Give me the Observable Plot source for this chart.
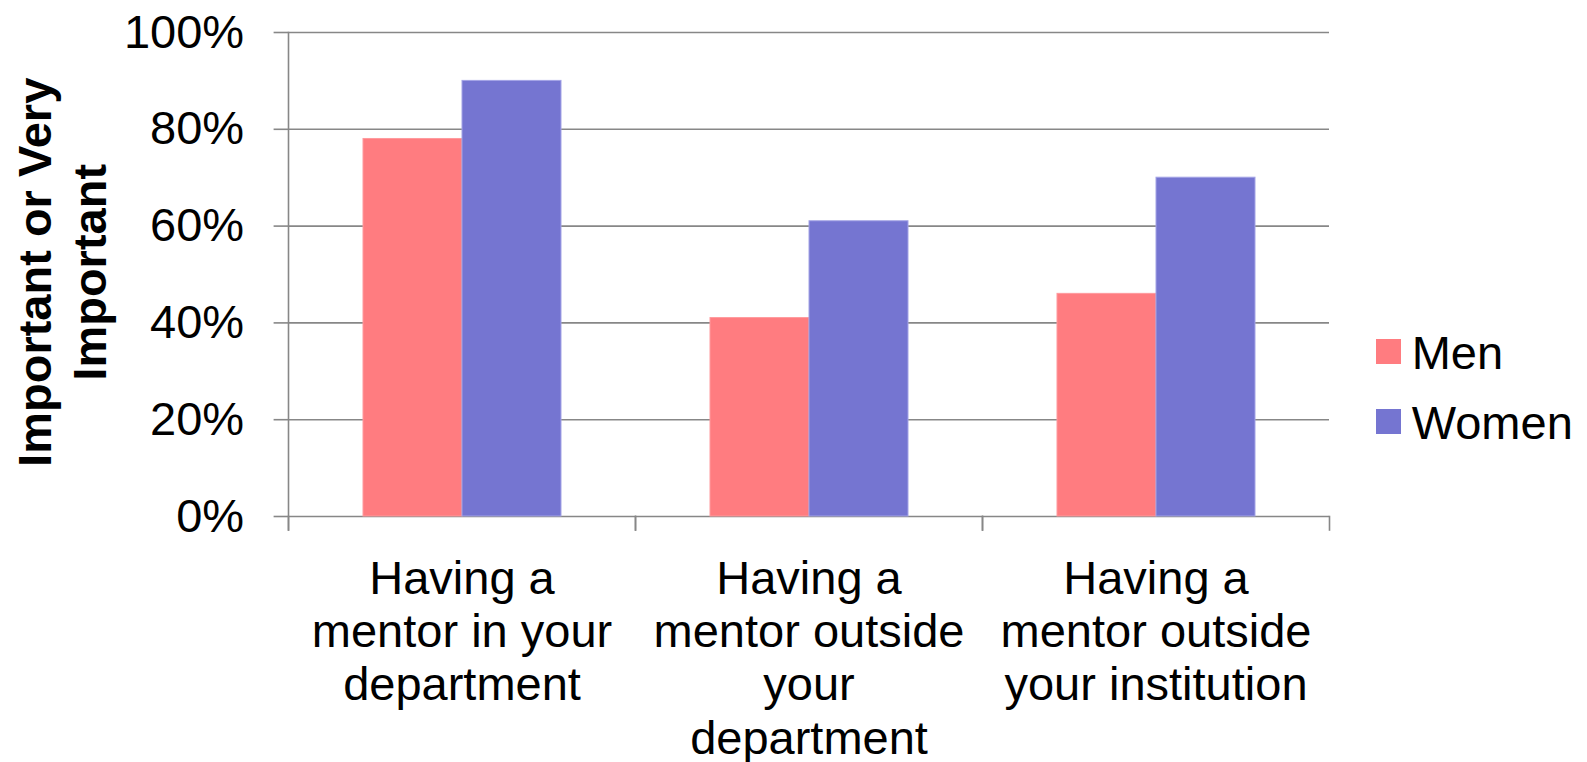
<!DOCTYPE html>
<html>
<head>
<meta charset="utf-8">
<script src="https://cdn.jsdelivr.net/npm/d3@7"></script>
<script src="https://cdn.jsdelivr.net/npm/@observablehq/plot@0.6"></script>
<style>
  html, body { margin: 0; padding: 0; background: #fff; }
  #chart { position: relative; width: 1587px; height: 762px; font-family: "Liberation Sans", Arial, sans-serif; color: #000; }
  #chart svg { position: absolute; left: 0; top: 0; }
  #ytitle {
    position: absolute; left: -188px; top: 216.7px; width: 500px; height: 110.6px;
    transform: rotate(-90deg); text-align: center; font-weight: bold; font-size: 47px; line-height: 55.3px;
    white-space: pre; z-index: 2;
  }
  .key-swatch { position: absolute; width: 25px; height: 25px; z-index: 2; }
  .key-label { position: absolute; font-size: 47px; line-height: 47px; white-space: nowrap; z-index: 2; }
</style>
</head>
<body>
<div id="chart"></div>
<script>
// Survey: share rating each kind of mentoring as important or very important
const categories = [
  "Having a\nmentor in your\ndepartment",
  "Having a\nmentor outside\nyour\ndepartment",
  "Having a\nmentor outside\nyour institution"
];
const series = ["Men", "Women"];
const menValues = [0.78, 0.41, 0.46];
const womenValues = [0.90, 0.61, 0.70];
const yTicks = [0, 0.2, 0.4, 0.6, 0.8, 1.0];
const colors = ["#FF7C80", "#7575D1"];
const edgeColors = ["#FF9A9D", "#A4A4E6"];
const yTitle = "Important or Very\nImportant";

const rows = [];
categories.forEach((cat, i) => {
  rows.push({cat, series: "Men", value: menValues[i]});
  rows.push({cat, series: "Women", value: womenValues[i]});
});

const W = 1587, H = 762;
const mLeft = 288, mRight = 258, mTop = 32, mBottom = 246;
const innerH = H - mTop - mBottom;
const gray = "#878787";

const chart = Plot.plot({
  width: W,
  height: H,
  marginLeft: mLeft,
  marginRight: mRight,
  marginTop: mTop,
  marginBottom: mBottom,
  style: {fontFamily: "'Liberation Sans', Arial, sans-serif", fontSize: "47px", color: "#000", background: "#fff", overflow: "visible"},
  fx: {domain: categories, padding: 0, label: null},
  x: {domain: series, paddingInner: 0, paddingOuter: 0.747, axis: null},
  y: {domain: [0, 1], label: null},
  color: {domain: series, range: colors},
  marks: [
    Plot.gridY(yTicks, {stroke: gray, strokeOpacity: 1, strokeWidth: 1.6}),
    Plot.barY(rows, {
      fx: "cat", x: "series", y: "value", fill: "series",
      stroke: d => edgeColors[series.indexOf(d.series)], strokeWidth: 1
    }),
    Plot.axisY(yTicks, {
      tickFormat: d3.format(".0%"), tickSize: 14.4, tickPadding: 30,
      stroke: gray, strokeWidth: 1.6, label: null, fill: "#000"
    }),
    Plot.axisFx({anchor: "bottom", tickSize: 0, tickPadding: 39.3, label: null, lineHeight: 1.136, fill: "#000"}),
    // vertical value axis line, running just past the baseline
    Plot.frame({anchor: "left", facetAnchor: "left", stroke: gray, strokeWidth: 1.6, insetBottom: -13.5}),
    // short category dividers under the baseline
    Plot.frame({anchor: "left", stroke: gray, strokeWidth: 1.6, insetTop: innerH, insetBottom: -13.5}),
    Plot.frame({anchor: "right", stroke: gray, strokeWidth: 1.6, insetTop: innerH, insetBottom: -13.5})
  ]
});

const host = document.getElementById("chart");
host.appendChild(chart);

const title = document.createElement("div");
title.id = "ytitle";
title.textContent = yTitle;
host.appendChild(title);

// Key on the right: swatch plus series name
const keyLeft = 1376;
const keySwatchTops = [339, 409.3];
series.forEach((s, i) => {
  const sw = document.createElement("div");
  sw.className = "key-swatch";
  sw.style.left = keyLeft + "px";
  sw.style.top = keySwatchTops[i] + "px";
  sw.style.background = colors[i];
  host.appendChild(sw);

  const label = document.createElement("div");
  label.className = "key-label";
  label.style.left = (keyLeft + 35.7) + "px";
  label.style.top = (keySwatchTops[i] + 12.5 - 23.5 + 0.9) + "px";
  label.textContent = s;
  host.appendChild(label);
});
</script>
</body>
</html>
